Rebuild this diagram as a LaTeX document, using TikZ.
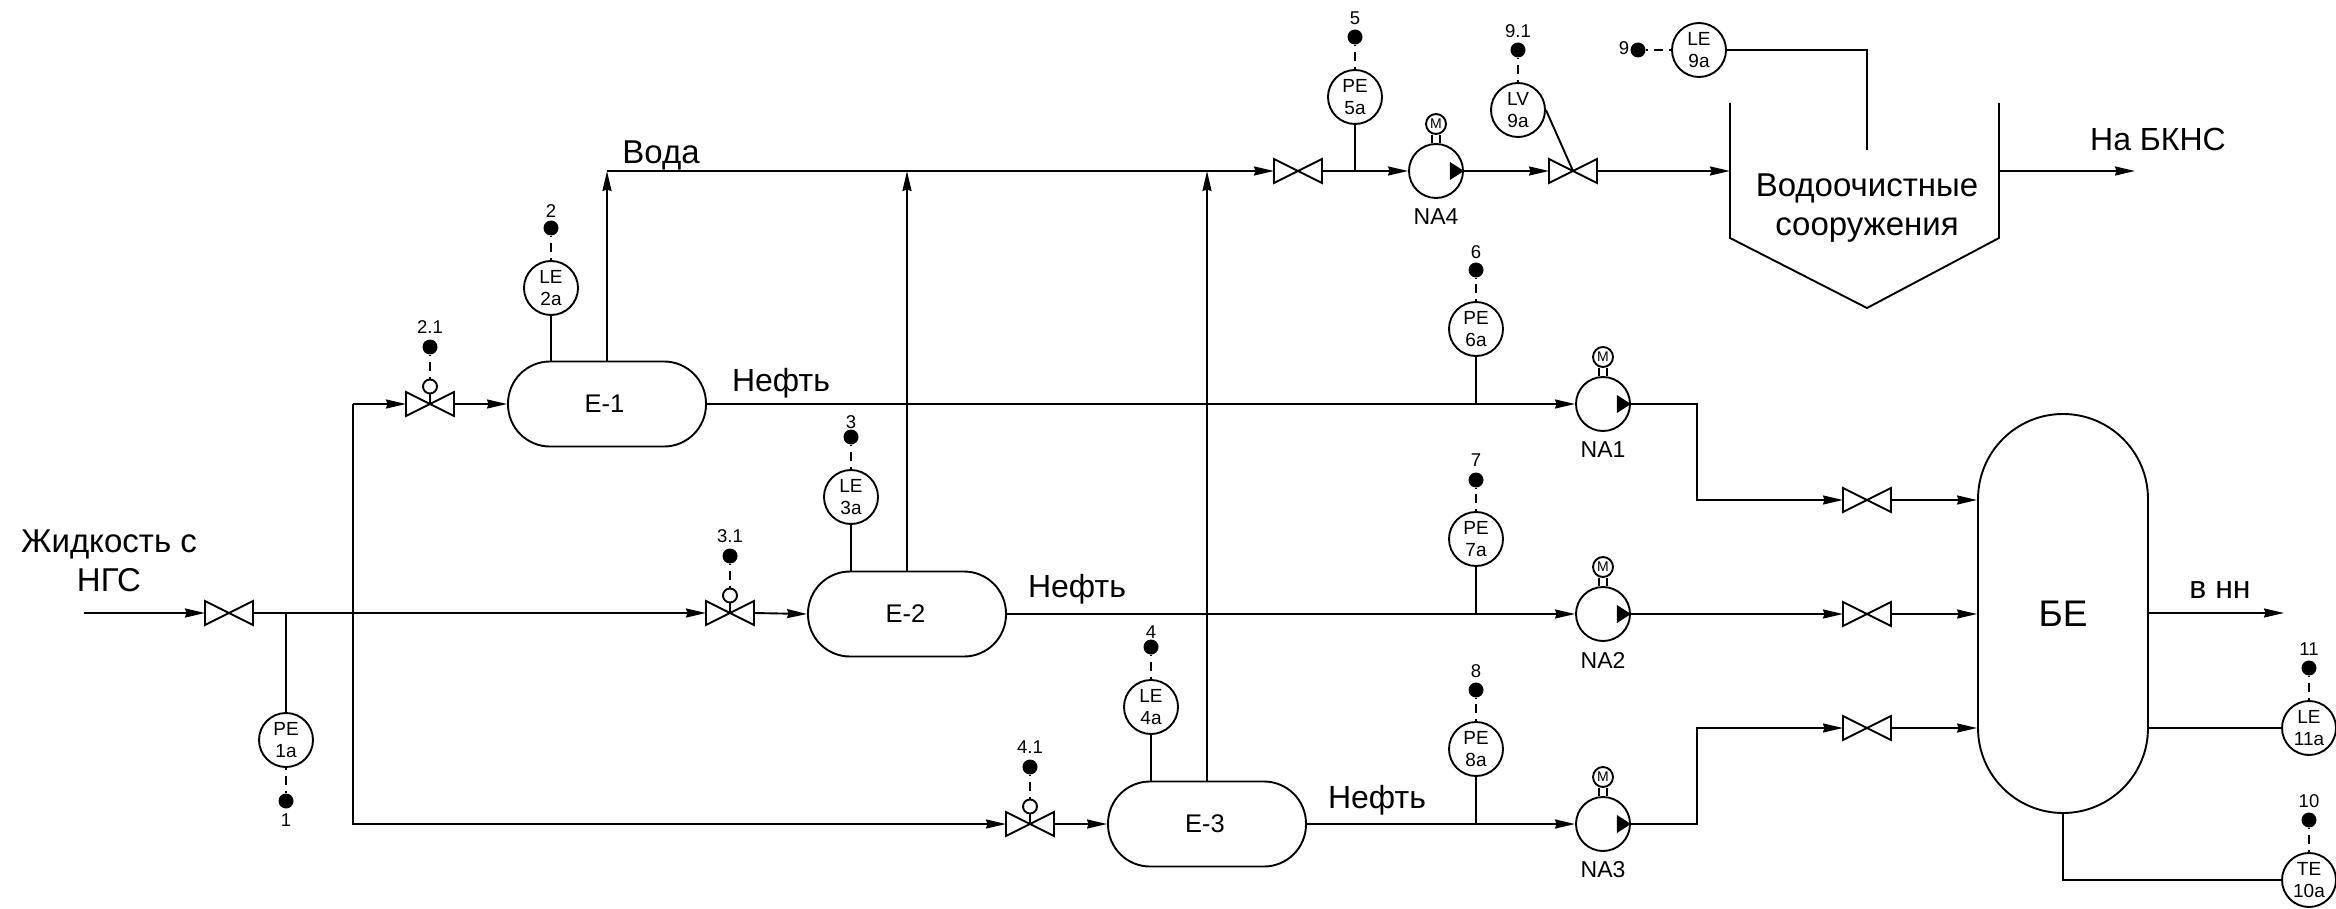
\documentclass[tikz,border=0pt]{standalone}
\usepackage{fontspec}
\setmainfont{Liberation Sans}
\usetikzlibrary{arrows.meta,calc}
\tikzset{
  pipe/.style={line width=1.9pt,black},
  flow/.style={pipe,-{Stealth[length=20pt,width=9pt,inset=1.5pt]}},
  sig/.style={line width=1.9pt,dash pattern=on 9pt off 6pt,dash phase=7pt},
  inst/.style={circle,draw,line width=1.9pt,fill=white,minimum size=54pt,inner sep=0pt,align=center,font=\fontsize{19}{22}\selectfont},
  dotn/.style={circle,fill=black,minimum size=15pt,inner sep=0pt},
  numl/.style={font=\fontsize{18.5}{20}\selectfont,inner sep=0pt},
  valvebox/.style={minimum width=48pt,minimum height=24pt,inner sep=0pt,outer sep=0pt},
  ctrl/.style={circle,draw,line width=1.9pt,minimum size=14pt,inner sep=0pt},
  pumpc/.style={circle,draw,line width=1.9pt,minimum size=54pt,inner sep=0pt},
  motor/.style={circle,draw,line width=1.9pt,minimum size=20pt,inner sep=0pt,font=\fontsize{14}{14}\selectfont},
  vessel/.style={draw,line width=1.9pt,rectangle,rounded corners=42pt,minimum width=198pt,minimum height=85pt,inner sep=0pt,font=\fontsize{25.5}{27}\selectfont},
  be/.style={draw,line width=1.9pt,rectangle,rounded corners=85pt,minimum width=170pt,minimum height=399pt,inner sep=0pt,font=\fontsize{37}{40}\selectfont},
  big/.style={font=\fontsize{33}{39.5}\selectfont,inner sep=0pt,align=center},
  pumplbl/.style={font=\fontsize{23}{24}\selectfont,inner sep=0pt},
}
% valve: name, x, y
\newcommand{\valveat}[3]{%
  \node[valvebox] (#1) at (#2,#3) {};
  \draw[pipe,line join=miter] (#1.north west) -- (#1.south east) -- (#1.north east) -- (#1.south west) -- cycle;
}
% pump: name, x, y, label
\newcommand{\pumpat}[4]{%
  \node[pumpc] (#1) at (#2,#3) {};
  \node[motor] (#1m) at (#2,#3-47) {M};
  \draw[pipe,line width=1.6pt] ([xshift=-4pt]#1m.south) -- ([xshift=-4pt]#1.north);
  \draw[pipe,line width=1.6pt] ([xshift=4pt]#1m.south) -- ([xshift=4pt]#1.north);
  \fill ([xshift=-14pt,yshift=9pt]#1.east) -- (#1.east) -- ([xshift=-14pt,yshift=-9pt]#1.east) -- cycle;
  \node[pumplbl] (#1l) at (#2,#3+46) {#4};
}
% probe: name, x, circle y, dot y, text y, instrument text, number
\newcommand{\probeat}[7]{%
  \node[inst] (#1) at (#2,#3) {#6};
  \node[dotn] (#1d) at (#2,#4) {};
  \node[numl] (#1n) at (#2,#5) {#7};
  \draw[sig] (#1.north) -- (#1d.south);
}
% control valve: name, x, y, number
\newcommand{\cvalveat}[4]{%
  \valveat{#1}{#2}{#3}
  \node[ctrl] (#1c) at (#2,#3-17.5) {};
  \node[dotn] (#1d) at (#2,#3-57) {};
  \node[numl] (#1n) at (#2,#3-76.5) {#4};
  \draw[pipe] (#1c.south) -- (#1.center);
  \draw[sig] (#1c.north) -- (#1d.south);
}
\begin{document}
\begin{tikzpicture}[x=1pt,y=-1pt]
\fill[white] (0,0) rectangle (2336,909);
\useasboundingbox (0,0) rectangle (2336,909);

% vessels
\node[vessel] (E1) at (607,404) {E-1\hspace*{5pt}};
\node[vessel] (E2) at (907,614) {E-2\hspace*{3pt}};
\node[vessel] (E3) at (1207,824) {E-3\hspace*{4pt}};
\node[be] (BE) at (2063,613.5) {БЕ};

% inlet
\coordinate (in) at (84,613);
\valveat{V0}{229}{613}
\draw[flow] (in) -- (V0.west);
\node[big] (tIn) at (109,561) {Жидкость с\\НГС};
\node[inst] (PE1) at (286,740) {PE\\1a};
\node[dotn] (PE1d) at (286,801) {};
\node[numl] (PE1n) at (286,820) {1};
\draw[sig] (PE1.south) -- (PE1d.north);
\draw[pipe] (PE1.north |- V0.east) -- (PE1.north);

% control valves to vessels
\cvalveat{V2}{430}{404}{2.1}
\cvalveat{V3}{730}{613}{3.1}
\cvalveat{V4}{1030}{824}{4.1}
\draw[pipe] (V0.east) -- (353,613);
\draw[flow] (353,613) -- (V3.west);
\coordinate (hdrT) at (353,404);
\coordinate (hdrB) at (353,824);
\draw[flow] (hdrT) -- (V2.west);
\draw[flow] (hdrT) -- (hdrB) -- (V4.west);
\draw[flow] (V2.east) -- (E1.west);
\draw[flow] (V3.east) -- (E2.west);
\draw[flow] (V4.east) -- (E3.west);

% level probes on vessels
\probeat{LE2}{551}{288}{228}{211}{LE\\2a}{2}
\probeat{LE3}{851}{497}{437}{422}{LE\\3a}{3}
\probeat{LE4}{1151}{707}{647}{632}{LE\\4a}{4}
\draw[pipe] (LE2.south) -- (LE2.south |- E1.north);
\draw[pipe] (LE3.south) -- (LE3.south |- E2.north);
\draw[pipe] (LE4.south) -- (LE4.south |- E3.north);

% water line
\coordinate (w0) at (607,171);
\valveat{V5}{1298}{171}
\pumpat{NA4}{1436}{171}{NA4}
\valveat{V9}{1573}{171}
\draw[flow] (E1.north) -- (w0);
\draw[flow] (E2.north) -- (E2.north |- w0);
\draw[flow] (E3.north) -- (E3.north |- w0);
\draw[flow] (w0) -- (V5.west);
\draw[flow] (V5.east) -- (NA4.west);
\draw[flow] (NA4.east) -- (V9.west);
\node[big] (tWater) at (661,155) {Вода};
\probeat{PE5}{1355}{97}{37}{18}{PE\\5a}{5}
\draw[pipe] (PE5.south) -- (PE5.south |- V5.east);
\probeat{LV9}{1518}{110}{50}{31}{LV\\9a}{9.1}
\draw[pipe] (LV9.east) -- (V9.center);

% water treatment
\coordinate (tTL) at (1730,103);
\coordinate (tBL) at (1730,238);
\coordinate (tB) at (1867,308);
\coordinate (tBR) at (1999,238);
\coordinate (tTR) at (1999,103);
\draw[pipe,line join=miter] (tTL) -- (tBL) -- (tB) -- (tBR) -- (tTR);
\node[big] (tTreat) at (1867,208) {Водоочистные\\сооружения};
\draw[flow] (V9.east) -- (tTL |- V9.east);
\coordinate (tOut) at (2135,171);
\draw[flow] (tTR |- tOut) -- (tOut);
\node[big,font=\fontsize{32}{39}\selectfont] (tBkns) at (2158,139) {На БКНС};
\node[inst] (LE9) at (1699,50) {LE\\9a};
\node[dotn] (LE9d) at (1638,50) {};
\node[numl] (LE9n) at (1624,48) {9};
\draw[sig] (LE9.west) -- (LE9d.east);
\coordinate (lvl) at (1867,150);
\draw[pipe] (LE9.east) -- (lvl |- LE9.east) -- (lvl);

% oil lines
\pumpat{NA1}{1603}{404}{NA1}
\pumpat{NA2}{1603}{614}{NA2}
\pumpat{NA3}{1603}{824}{NA3}
\draw[flow] (E1.east) -- (NA1.west);
\draw[flow] (E2.east) -- (NA2.west);
\draw[flow] (E3.east) -- (NA3.west);
\node[big,font=\fontsize{32}{39}\selectfont] (tOil1) at (781,383) {Нефть};
\node[big,font=\fontsize{32}{39}\selectfont] (tOil2) at (1077,589) {Нефть};
\node[big,font=\fontsize{32}{39}\selectfont] (tOil3) at (1377,800) {Нефть};
\probeat{PE6}{1476}{329}{270}{252}{PE\\6a}{6}
\probeat{PE7}{1476}{539}{480}{460}{PE\\7a}{7}
\probeat{PE8}{1476}{749}{690}{671}{PE\\8a}{8}
\draw[pipe] (PE6.south) -- (PE6.south |- NA1.west);
\draw[pipe] (PE7.south) -- (PE7.south |- NA2.west);
\draw[pipe] (PE8.south) -- (PE8.south |- NA3.west);

\valveat{V6}{1867}{500}
\valveat{V7}{1867}{614}
\valveat{V8}{1867}{728}
\draw[flow] (NA1.east) -- (1697,404) -- (1697,500) -- (V6.west);
\draw[flow] (NA2.east) -- (V7.west);
\draw[flow] (NA3.east) -- (1697,824) -- (1697,728) -- (V8.west);
\draw[flow] (V6.east) -- (V6.east -| BE.west);
\draw[flow] (V7.east) -- (V7.east -| BE.west);
\draw[flow] (V8.east) -- (V8.east -| BE.west);

% buffer outlets
\coordinate (beOut) at (2284,613);
\draw[flow] (beOut -| BE.east) -- (beOut);
\node[big,font=\fontsize{32}{39}\selectfont] (tHH) at (2220,590) {в нн};
\probeat{LE11}{2309}{728}{668}{649}{LE\\11a}{11}
\probeat{TE10}{2309}{880}{820}{801}{TE\\10a}{10}
\draw[pipe] (LE11.west -| BE.east) -- (LE11.west);
\draw[pipe] (BE.south) -- (BE.south |- TE10.west) -- (TE10.west);
\end{tikzpicture}
\end{document}
